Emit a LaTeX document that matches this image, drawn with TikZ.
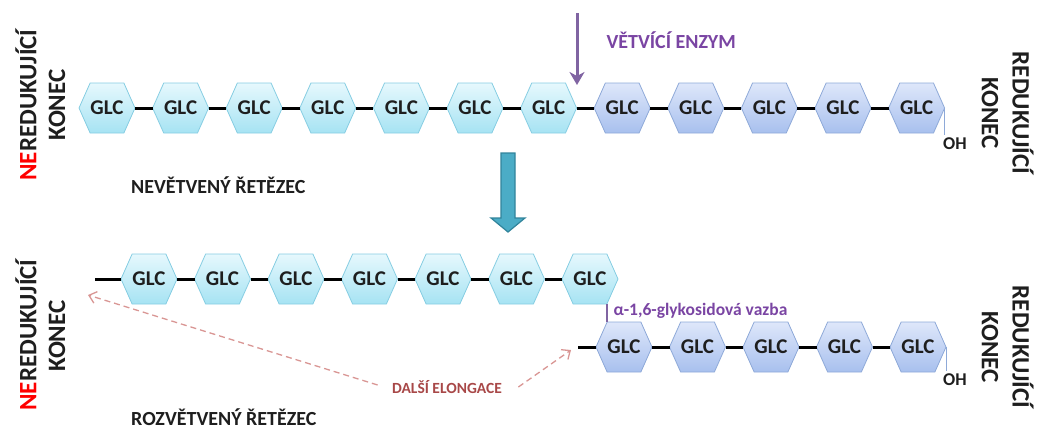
\documentclass[tikz,border=0pt]{standalone}
\usepackage{fontspec}
\setmainfont{Carlito}
\usetikzlibrary{shapes.symbols,arrows.meta,calc}
\definecolor{txt}{HTML}{1E1E1E}
\definecolor{cyantop}{HTML}{E6F8FD}
\definecolor{cyanbot}{HTML}{A6E3F3}
\definecolor{cyanedge}{HTML}{86CDE2}
\definecolor{bluetop}{HTML}{DEE7FA}
\definecolor{bluebot}{HTML}{A8C0EE}
\definecolor{blueedge}{HTML}{8EA9D8}
\definecolor{enzym}{HTML}{7A45A3}
\definecolor{enzymarrow}{HTML}{8064A2}
\definecolor{tealfill}{HTML}{4BACC6}
\definecolor{tealedge}{HTML}{31849B}
\definecolor{elong}{HTML}{A84848}
\definecolor{elongdash}{HTML}{D99694}
\begin{document}
\begin{tikzpicture}[x=1pt,y=-1pt,
  glc/.style={signal, signal to=west and east, signal pointer angle=132,
    minimum width=56pt, minimum height=50pt,
    inner sep=0pt, outer sep=0pt, line width=0.8pt, text=txt,
    font=\bfseries\fontsize{21}{21}\selectfont},
  light/.style={glc, draw=cyanedge, top color=cyantop, bottom color=cyanbot},
  dark/.style={glc, draw=blueedge, top color=bluetop, bottom color=bluebot},
  bond/.style={line width=3pt, draw=black},
  endlabel/.style={text=txt, font=\bfseries\fontsize{25}{25}\selectfont},
  chainlabel/.style={text=txt, anchor=west, inner sep=0pt, font=\bfseries\fontsize{20}{20}\selectfont},
  ohlabel/.style={text=txt, font=\bfseries\fontsize{18}{18}\selectfont},
  ohline/.style={draw=blueedge, line width=1pt},
  elongarrow/.style={draw=elongdash, line width=1.3pt, dash pattern=on 6pt off 4pt,
    -{Straight Barb[length=7pt,width=12pt]}},
]
\useasboundingbox (0,0) rectangle (1037,432);

% ---------- unbranched chain ----------
\foreach \i in {1,...,7}
  \node[light] (a\i) at ({107+73.6*(\i-1)},108) {GLC};
\foreach \i in {8,...,12}
  \node[dark] (a\i) at ({107+73.6*(\i-1)},108) {GLC};
\foreach \i [evaluate=\i as \j using int(\i+1)] in {1,...,11}
  \draw[bond] (a\i.east) -- (a\j.west);

\node[ohlabel] (oh1) at (955,144) {OH};
\draw[ohline] (a12.east) -- (a12.east |- oh1.north);

% branching enzyme
\coordinate (enzA) at (577,13);
\coordinate (enzB) at (577,85);
\draw[enzymarrow, line width=3pt, -{Stealth[length=13pt,width=15pt,inset=4pt]}] (enzA) -- (enzB);
\node[anchor=west, text=enzym, font=\bfseries\fontsize{20}{20}\selectfont] (enz) at (603,40) {VĚTVÍCÍ ENZYM};

\node[chainlabel] (nev) at (131,185) {NEVĚTVENÝ ŘETĚZEC};

% chain ends
\node[endlabel, rotate=90] (ne1) at (26,105) {\textcolor{red}{NE}REDUKUJÍCÍ};
\node[endlabel, rotate=90] (k1) at (57,105) {KONEC};
\node[endlabel, rotate=-90] (r1) at (1023,113) {REDUKUJÍCÍ};
\node[endlabel, rotate=-90] (k2) at (990,113) {KONEC};

% ---------- transition arrow ----------
\draw[fill=tealfill, draw=tealedge, line width=1.2pt, line join=miter]
  (501,153) -- (515,153) -- (515,218) -- (525,218) -- (508,232)
  -- (491,218) -- (501,218) -- cycle;

% ---------- branched chain ----------
\foreach \i in {1,...,7}
  \node[light] (b\i) at ({149+73.5*(\i-1)},279) {GLC};
\foreach \i in {1,...,5}
  \node[dark] (c\i) at ({624+73.5*(\i-1)},347) {GLC};
\foreach \i [evaluate=\i as \j using int(\i+1)] in {1,...,6}
  \draw[bond] (b\i.east) -- (b\j.west);
\foreach \i [evaluate=\i as \j using int(\i+1)] in {1,...,4}
  \draw[bond] (c\i.east) -- (c\j.west);

\coordinate (bstub) at (95,279);
\coordinate (cstub) at (578,347);
\draw[bond] (bstub) -- (b1.west);
\draw[bond] (cstub) -- (c1.west);

% alpha-1,6 link
\draw[draw=enzymarrow, line width=2.5pt] ($(b7.south)+(17,0)$) -- ($(c1.north)+(-17,0)$);
\node[anchor=west, text=enzym, font=\bfseries\fontsize{17.5}{17.5}\selectfont] (alfa) at (610,311)
  {α-1,6-glykosidová vazba};

\node[ohlabel] (oh2) at (955,380) {OH};
\draw[ohline] (c5.east) -- (c5.east |- oh2.north);

% further elongation
\node[text=elong, font=\bfseries\fontsize{15.5}{15.5}\selectfont] (elo) at (447,387) {DALŠÍ ELONGACE};
\coordinate (eloL) at (88,295);
\coordinate (eloR) at (571,350);
\draw[elongarrow] ($(elo.west)+(-11,-2)$) -- (eloL);
\draw[elongarrow] ($(elo.east)+(13,0)$) -- (eloR);

\node[chainlabel] (roz) at (131,417) {ROZVĚTVENÝ ŘETĚZEC};

% chain ends
\node[endlabel, rotate=90] (ne2) at (26,335) {\textcolor{red}{NE}REDUKUJÍCÍ};
\node[endlabel, rotate=90] (k3) at (57,336) {KONEC};
\node[endlabel, rotate=-90] (r2) at (1023,347) {REDUKUJÍCÍ};
\node[endlabel, rotate=-90] (k4) at (990,347) {KONEC};
\end{tikzpicture}
\end{document}
